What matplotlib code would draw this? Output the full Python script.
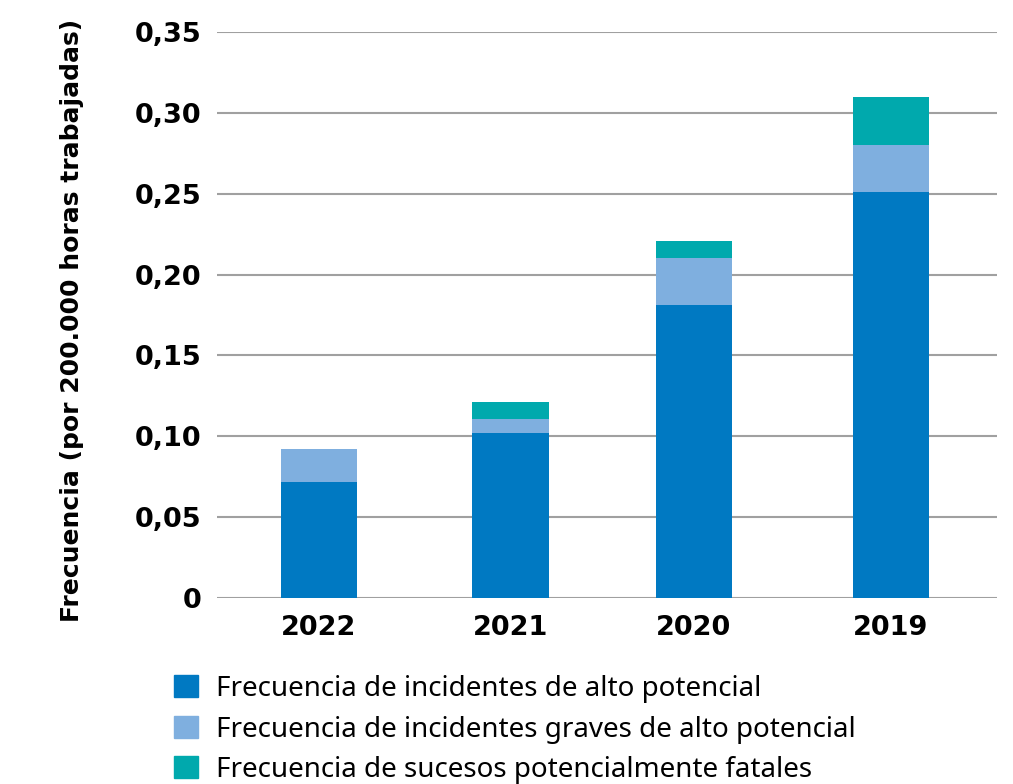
import matplotlib.pyplot as plt
from matplotlib.patches import Patch
import numpy as np

years = ['2022', '2021', '2020', '2019']
alto_potencial = [0.072, 0.102, 0.181, 0.251]
graves = [0.020, 0.009, 0.029, 0.029]
fatales = [0.000, 0.010, 0.011, 0.030]

series_names = [
    'Frecuencia de incidentes de alto potencial',
    'Frecuencia de incidentes graves de alto potencial',
    'Frecuencia de sucesos potencialmente fatales',
]
colors = ['#0079C2', '#7FAFDF', '#00A9AD']
yticks = [0, 0.05, 0.10, 0.15, 0.20, 0.25, 0.30, 0.35]
ytick_labels = ['0', '0,05', '0,10', '0,15', '0,20', '0,25', '0,30', '0,35']

fig = plt.figure(figsize=(10.13, 7.84), dpi=100)
ax = fig.add_axes([0.2142, 0.2372, 0.770, 0.722])

x = np.array([0, 1.005, 1.965, 3.0])
w = 0.40
bottom = np.zeros(len(years))
for vals, c in zip([alto_potencial, graves, fatales], colors):
    ax.bar(x, vals, w, bottom=bottom, color=c, zorder=3)
    bottom += np.array(vals)

ax.set_xlim(-0.535, 3.556)
ax.set_ylim(0, 0.35)
ax.set_yticks(yticks)
ax.set_yticklabels(ytick_labels, fontfamily='DejaVu Sans', fontweight='bold', fontsize=19.5)
ax.set_xticks(x)
ax.set_xticklabels(years, fontfamily='DejaVu Sans', fontweight='bold', fontsize=19.5)
ax.tick_params(axis='y', length=0, pad=11)
ax.tick_params(axis='x', length=0, pad=12)
ax.grid(axis='y', color='#a0a0a0', linewidth=1.5, zorder=0)
for s in ax.spines.values():
    s.set_visible(False)

ax.set_ylabel('Frecuencia (por 200.000 horas trabajadas)', fontfamily='DejaVu Sans',
              fontweight='bold', fontsize=18)
ax.yaxis.set_label_coords(-0.17, 0.49)

handles = [Patch(color=c) for c in colors]
fig.legend(handles, series_names, loc='upper left', bbox_to_anchor=(0.172, 0.139),
           frameon=False, prop={'family': ['Noto Sans'], 'size': 20},
           handlelength=0.85, handleheight=0.85, handletextpad=0.65, labelspacing=0.45,
           borderaxespad=0, borderpad=0)

fig.savefig('out.png', dpi=100)
